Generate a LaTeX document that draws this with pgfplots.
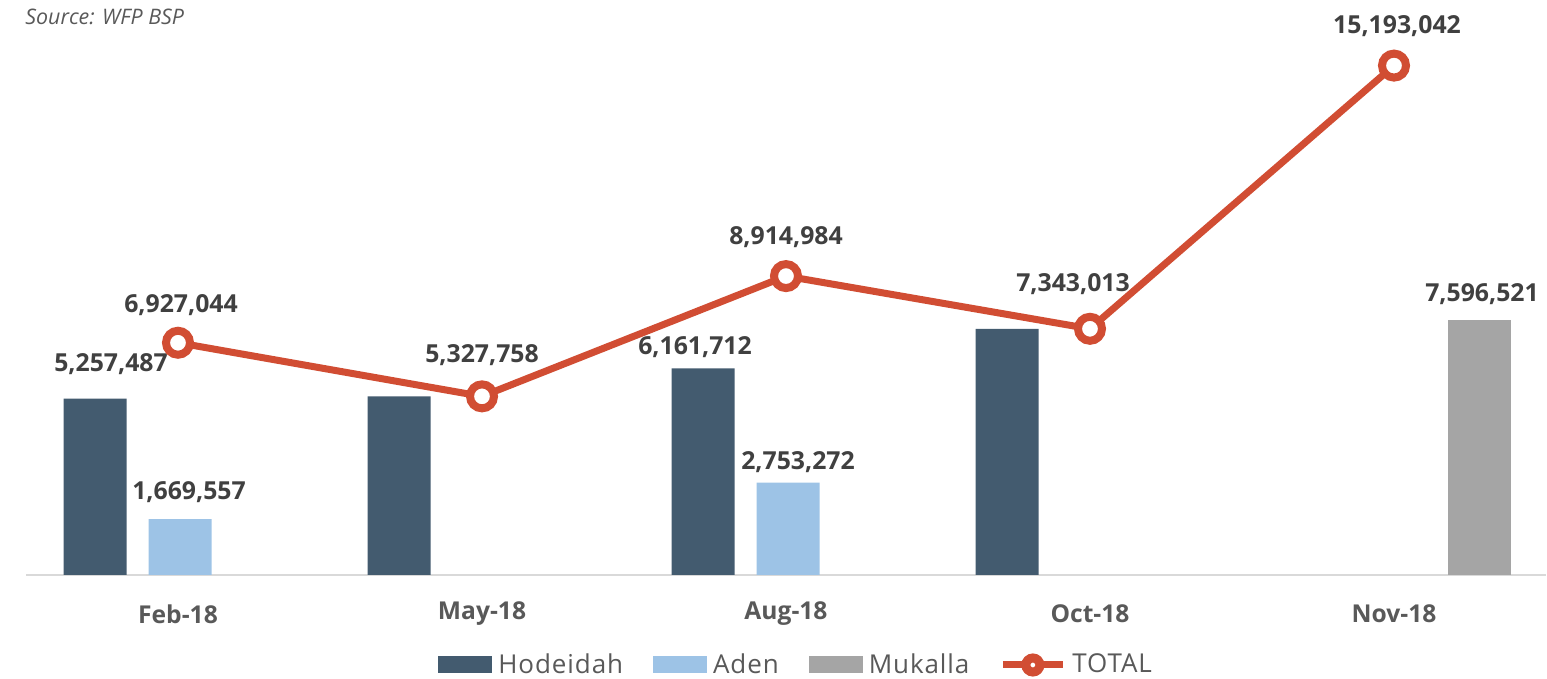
\documentclass[border=0pt]{standalone}
\usepackage{fontspec}
\setmainfont{Open Sans}
\newfontfamily\legfont[LetterSpace=3.5]{Open Sans}
\usepackage{pgfplots}
\usepackage{pgfplotstable}
\pgfplotsset{compat=1.18}
\definecolor{hodcol}{HTML}{435B6F}
\definecolor{adencol}{HTML}{9DC3E6}
\definecolor{mukcol}{HTML}{A5A5A5}
\definecolor{totcol}{HTML}{D14D33}
\definecolor{lblcol}{HTML}{404040}
\definecolor{txtcol}{HTML}{595959}
\definecolor{basecol}{HTML}{D9D9D9}

% dx, dy: label offsets (pt) from the category centre / value
\pgfplotstableread{
x y lab dx dy
0 5257487 5,257,487 -33.5 17.5
1 5327758 {} 0 0
2 6161712 6,161,712 -45.5 10.5
3 7343013 {} 0 0
}\hodtab
\pgfplotstableread{
x y lab dx dy
0 1669557 1,669,557 5.5 13.5
2 2753272 2,753,272 6 10.5
}\adentab
\pgfplotstableread{
x y lab dx dy
4 7596521 7,596,521 44 13
}\muktab
\pgfplotstableread{
x y lab dx dy
0 6927044 6,927,044 1.5 19
1 5327758 5,327,758 0 20.5
2 8914984 8,914,984 0 19.5
3 7343013 7,343,013 -8.5 22.5
4 15193042 15,193,042 1.5 19.5
}\tottab

\pgfplotsset{
  lblstyle/.style={
    point meta=explicit symbolic,
    nodes near coords,
    visualization depends on={\thisrow{dx}\as\lblx},
    visualization depends on={\thisrow{dy}\as\lbly},
    every node near coord/.append style={anchor=center, xshift=\lblx pt, yshift=\lbly pt,
      font=\bfseries\fontsize{12.4}{14}\selectfont, text=lblcol, inner sep=0pt},
  }
}

\begin{document}
\begin{tikzpicture}
\begin{axis}[
  scale only axis, width=760pt, height=285pt,
  xmin=-0.5, xmax=4.5, ymin=0, ymax=17000000,
  clip=false,
  axis x line*=bottom, axis y line=none,
  x axis line style={draw=basecol, line width=1pt, -},
  xtick={0,1,2,3,4},
  xticklabels={Feb-18,May-18,Aug-18,Oct-18,Nov-18},
  ytick=\empty,
  major tick length=0pt,
  xticklabel style={font=\bfseries\fontsize{12.3}{14}\selectfont, text=txtcol, anchor=center, yshift=-19.5pt},
  legend columns=4,
  legend style={draw=none, fill=none, at={(0.508,0)}, anchor=center, yshift=-45pt,
    font=\legfont\fontsize{13}{15}\selectfont, text=txtcol,
    nodes={inner xsep=3pt, inner ysep=1pt},
    /tikz/every even column/.append style={column sep=12pt}},
]
\addplot[ybar, bar width=31.5pt, bar shift=-41.5pt, fill=hodcol, draw=none, lblstyle,
  legend image code/.code={\fill[hodcol] (0pt,-4.25pt) rectangle (27pt,4.25pt);}]
  table[x=x, y=y, meta=lab] {\hodtab};
\addlegendentry{Hodeidah}
\addplot[ybar, bar width=31.5pt, bar shift=1pt, fill=adencol, draw=none, lblstyle,
  legend image code/.code={\fill[adencol] (0pt,-4.25pt) rectangle (27pt,4.25pt);}]
  table[x=x, y=y, meta=lab] {\adentab};
\addlegendentry{Aden}
\addplot[ybar, bar width=31.5pt, bar shift=42.5pt, fill=mukcol, draw=none, lblstyle,
  legend image code/.code={\fill[mukcol] (0pt,-4.25pt) rectangle (27pt,4.25pt);}]
  table[x=x, y=y, meta=lab] {\muktab};
\addlegendentry{Mukalla}
\addplot[color=totcol, line width=3.5pt, mark=*, mark size=6pt,
  mark options={fill=white, draw=totcol, line width=4pt}, lblstyle,
  legend image code/.code={\draw[totcol, line width=3.5pt] (0pt,0pt) -- (30pt,0pt);
    \draw[totcol, line width=4.5pt, fill=white] (15pt,0pt) circle (3.5pt);}]
  table[x=x, y=y, meta=lab] {\tottab};
\addlegendentry{TOTAL}
\node[anchor=west, inner sep=0pt, font=\itshape\fontsize{10.7}{12}\selectfont, text=txtcol]
  at (rel axis cs:0,1) [xshift=-0.5pt, yshift=-6pt] {Source: WFP BSP};
\end{axis}
\pgfresetboundingbox
\path[use as bounding box] (current axis.south west) ++(-13pt,-52pt) rectangle ++(773.5pt,339.5pt);
\end{tikzpicture}
\end{document}
